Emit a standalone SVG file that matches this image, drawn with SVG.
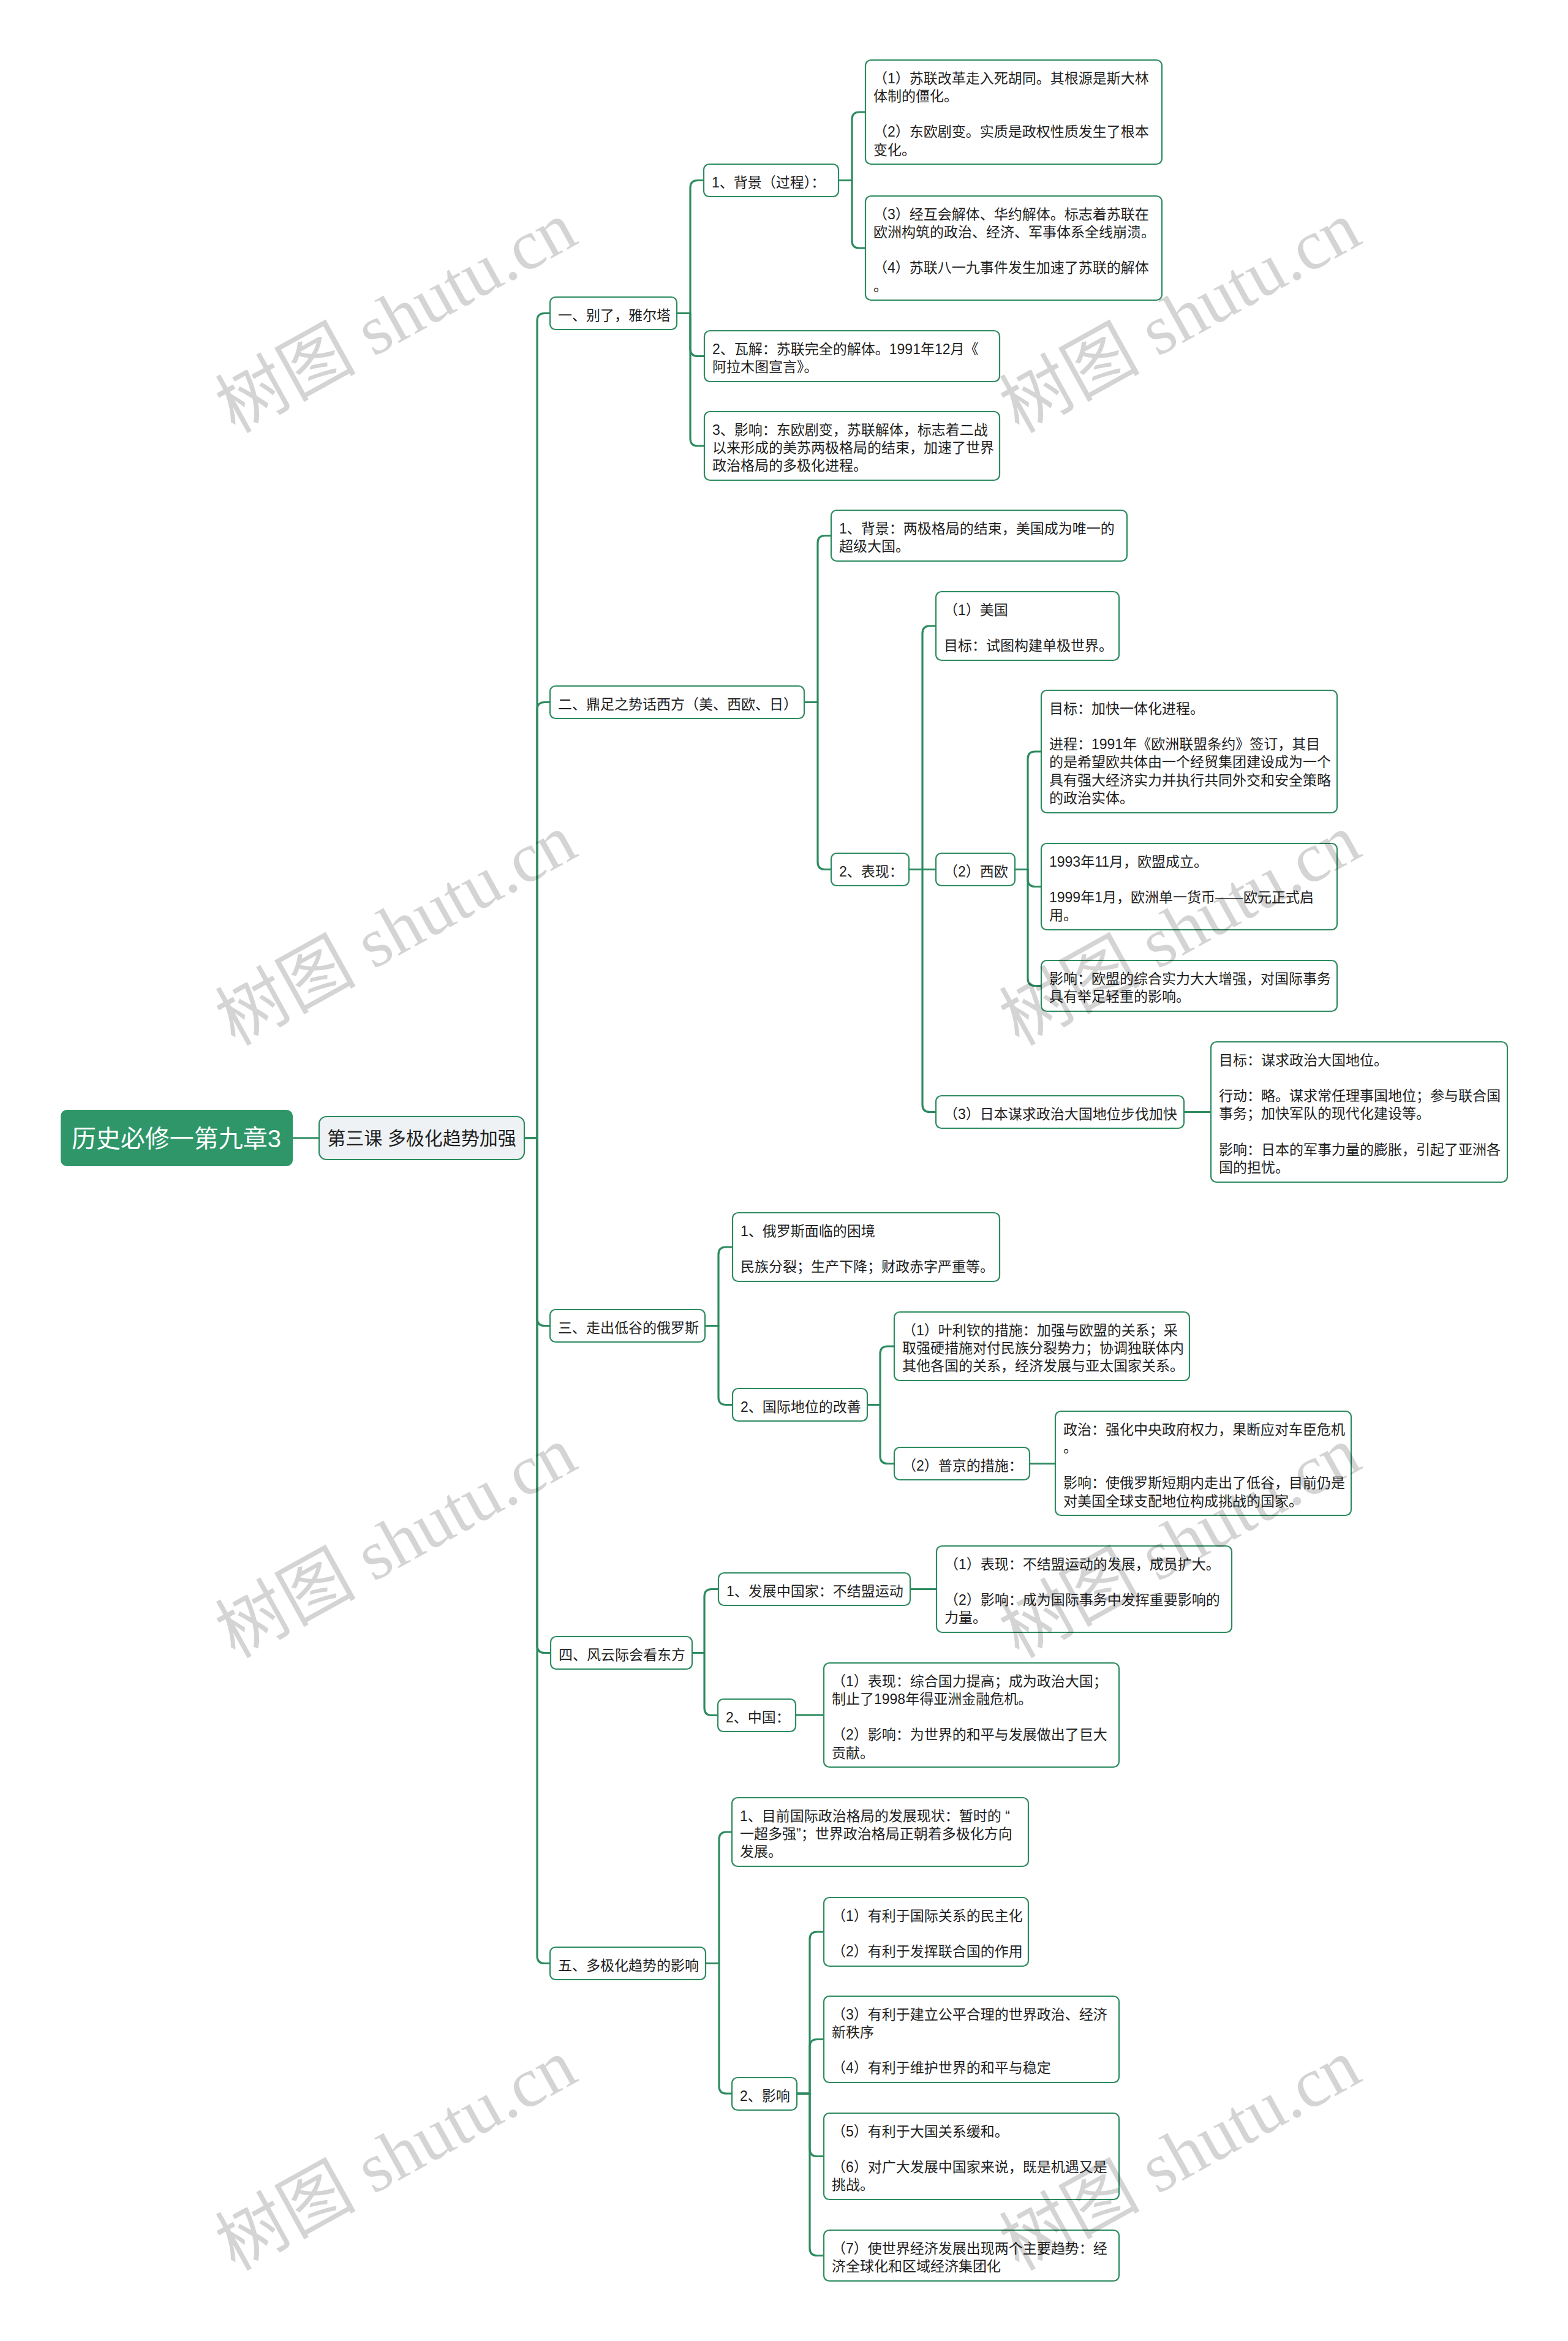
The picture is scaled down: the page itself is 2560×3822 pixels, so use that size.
<svg xmlns="http://www.w3.org/2000/svg" width="2560" height="3822" viewBox="0 0 2560 3822">
<style>
.bg{fill:#ffffff}
.box{fill:#ffffff;stroke:#2d8b5f;stroke-width:2.2}
.c{fill:none;stroke:#2d8b5f;stroke-width:3.2;stroke-linecap:round;stroke-linejoin:round}
.t{font-family:"Liberation Sans","Noto Sans CJK SC",sans-serif;font-size:23px;fill:#1e1e1e}
.wm{font-family:"Liberation Serif","Noto Sans CJK SC",serif;font-size:115px;fill:#000000;fill-opacity:0.17;text-anchor:middle}
</style>
<rect class="bg" x="0" y="0" width="2560" height="3822"/>

<g id="connectors">
<path class="c" d="M478,1858 H521"/>
<path class="c" d="M856,1858 H877 V523.5 Q877,511.5 889,511.5 H898"/>
<path class="c" d="M856,1858 H877 V1158.5 Q877,1146.5 889,1146.5 H898"/>
<path class="c" d="M856,1858 H877 V2152.5 Q877,2164.5 889,2164.5 H898"/>
<path class="c" d="M856,1858 H877 V2686.5 Q877,2698.5 889,2698.5 H899"/>
<path class="c" d="M856,1858 H877 V3193.5 Q877,3205.5 889,3205.5 H898"/>

<path class="c" d="M1105,511.5 H1127 V306.5 Q1127,294.5 1139,294.5 H1149"/>
<path class="c" d="M1105,511.5 H1127 V569.5 Q1127,581.5 1139,581.5 H1150"/>
<path class="c" d="M1105,511.5 H1127 V716 Q1127,728 1139,728 H1150"/>
<path class="c" d="M1369,294.5 H1391 V195 Q1391,183 1403,183 H1413"/>
<path class="c" d="M1369,294.5 H1391 V393 Q1391,405 1403,405 H1413"/>

<path class="c" d="M1313,1146.5 H1335 V886.5 Q1335,874.5 1347,874.5 H1357"/>
<path class="c" d="M1313,1146.5 H1335 V1407.5 Q1335,1419.5 1347,1419.5 H1357"/>
<path class="c" d="M1484,1419.5 H1506 V1034 Q1506,1022 1518,1022 H1528"/>
<path class="c" d="M1484,1419.5 H1528"/>
<path class="c" d="M1484,1419.5 H1506 V1803.5 Q1506,1815.5 1518,1815.5 H1528"/>
<path class="c" d="M1657,1419.5 H1678 V1239 Q1678,1227 1690,1227 H1700"/>
<path class="c" d="M1657,1419.5 H1678 V1435.5 Q1678,1447.5 1690,1447.5 H1700"/>
<path class="c" d="M1657,1419.5 H1678 V1597.5 Q1678,1609.5 1690,1609.5 H1700"/>
<path class="c" d="M1933,1815.5 H1977"/>

<path class="c" d="M1151,2164.5 H1173 V2048 Q1173,2036 1185,2036 H1196"/>
<path class="c" d="M1151,2164.5 H1173 V2281.5 Q1173,2293.5 1185,2293.5 H1196"/>
<path class="c" d="M1416,2293.5 H1437 V2210 Q1437,2198 1449,2198 H1460"/>
<path class="c" d="M1416,2293.5 H1437 V2377.5 Q1437,2389.5 1449,2389.5 H1460"/>
<path class="c" d="M1681,2389.5 H1723"/>

<path class="c" d="M1130,2698.5 H1150 V2606.5 Q1150,2594.5 1162,2594.5 H1173"/>
<path class="c" d="M1130,2698.5 H1150 V2788.5 Q1150,2800.5 1162,2800.5 H1172"/>
<path class="c" d="M1486,2594.5 H1529"/>
<path class="c" d="M1299,2800 H1345"/>

<path class="c" d="M1152,3205.5 H1174 V3003 Q1174,2991 1186,2991 H1195"/>
<path class="c" d="M1152,3205.5 H1174 V3406 Q1174,3418 1186,3418 H1195"/>
<path class="c" d="M1301,3418 H1322 V3166 Q1322,3154 1334,3154 H1345"/>
<path class="c" d="M1301,3418 H1322 V3341.5 Q1322,3329.5 1334,3329.5 H1345"/>
<path class="c" d="M1301,3418 H1322 V3508.5 Q1322,3520.5 1334,3520.5 H1345"/>
<path class="c" d="M1301,3418 H1322 V3670.5 Q1322,3682.5 1334,3682.5 H1345"/>
</g>

<g id="root">
<rect x="99" y="1812" width="379" height="92" rx="10" fill="#2e9668"/>
<text x="288" y="1873" text-anchor="middle" style="font-family:'Liberation Sans','Noto Sans CJK SC',sans-serif;font-size:40px;fill:#ffffff">历史必修一第九章3</text>
</g>

<g id="subroot">
<rect x="521" y="1823" width="335" height="70" rx="12" fill="#eef2f4" stroke="#2d8b5f" stroke-width="2.2"/>
<text x="688.5" y="1869" text-anchor="middle" style="font-family:'Liberation Sans','Noto Sans CJK SC',sans-serif;font-size:30px;fill:#1e1e1e">第三课 多极化趋势加强</text>
</g>

<g id="n1">
<rect class="box" x="898" y="485" width="207" height="53" rx="9"/>
<text class="t" x="911" y="522.5">一、别了，雅尔塔</text>
</g>
<g id="n1-1">
<rect class="box" x="1149" y="268" width="220" height="53" rx="9"/>
<text class="t" x="1162" y="305.5">1、背景（过程）：</text>
</g>
<g id="n1-1-1">
<rect class="box" x="1413" y="98" width="484" height="170" rx="9"/>
<text class="t"><tspan x="1426" y="135.5">（1）苏联改革走入死胡同。其根源是斯大林</tspan><tspan x="1426" y="164.8">体制的僵化。</tspan><tspan x="1426" y="223.4">（2）东欧剧变。实质是政权性质发生了根本</tspan><tspan x="1426" y="252.7">变化。</tspan></text>
</g>
<g id="n1-1-2">
<rect class="box" x="1413" y="320" width="484" height="170" rx="9"/>
<text class="t"><tspan x="1426" y="357.5">（3）经互会解体、华约解体。标志着苏联在</tspan><tspan x="1426" y="386.8">欧洲构筑的政治、经济、军事体系全线崩溃。</tspan><tspan x="1426" y="445.4">（4）苏联八一九事件发生加速了苏联的解体</tspan><tspan x="1426" y="474.7">。</tspan></text>
</g>
<g id="n1-2">
<rect class="box" x="1150" y="540" width="482" height="83" rx="9"/>
<text class="t"><tspan x="1163" y="577.5">2、瓦解：苏联完全的解体。1991年12月《</tspan><tspan x="1163" y="606.8">阿拉木图宣言》。</tspan></text>
</g>
<g id="n1-3">
<rect class="box" x="1150" y="672" width="482" height="112" rx="9"/>
<text class="t"><tspan x="1163" y="709.5">3、影响：东欧剧变，苏联解体，标志着二战</tspan><tspan x="1163" y="738.8">以来形成的美苏两极格局的结束，加速了世界</tspan><tspan x="1163" y="768.1">政治格局的多极化进程。</tspan></text>
</g>

<g id="n2">
<rect class="box" x="898" y="1120" width="415" height="53" rx="9"/>
<text class="t" x="911" y="1157.5">二、鼎足之势话西方（美、西欧、日）</text>
</g>
<g id="n2-1">
<rect class="box" x="1357" y="833" width="483" height="83" rx="9"/>
<text class="t"><tspan x="1370" y="870.5">1、背景：两极格局的结束，美国成为唯一的</tspan><tspan x="1370" y="899.8">超级大国。</tspan></text>
</g>
<g id="n2-2">
<rect class="box" x="1357" y="1393" width="127" height="53" rx="9"/>
<text class="t" x="1370" y="1430.5">2、表现：</text>
</g>
<g id="n2-2-1">
<rect class="box" x="1528" y="966" width="299" height="112" rx="9"/>
<text class="t"><tspan x="1541" y="1003.5">（1）美国</tspan><tspan x="1541" y="1062.1">目标：试图构建单极世界。</tspan></text>
</g>
<g id="n2-2-2">
<rect class="box" x="1528" y="1393" width="129" height="53" rx="9"/>
<text class="t" x="1541" y="1430.5">（2）西欧</text>
</g>
<g id="n2-2-2-1">
<rect class="box" x="1700" y="1127" width="483" height="200" rx="9"/>
<text class="t"><tspan x="1713" y="1164.5">目标：加快一体化进程。</tspan><tspan x="1713" y="1223.1">进程：1991年《欧洲联盟条约》签订，其目</tspan><tspan x="1713" y="1252.4">的是希望欧共体由一个经贸集团建设成为一个</tspan><tspan x="1713" y="1281.7">具有强大经济实力并执行共同外交和安全策略</tspan><tspan x="1713" y="1311">的政治实体。</tspan></text>
</g>
<g id="n2-2-2-2">
<rect class="box" x="1700" y="1377" width="483" height="141" rx="9"/>
<text class="t"><tspan x="1713" y="1414.5">1993年11月，欧盟成立。</tspan><tspan x="1713" y="1473.1">1999年1月，欧洲单一货币——欧元正式启</tspan><tspan x="1713" y="1502.4">用。</tspan></text>
</g>
<g id="n2-2-2-3">
<rect class="box" x="1700" y="1568" width="483" height="83" rx="9"/>
<text class="t"><tspan x="1713" y="1605.5">影响：欧盟的综合实力大大增强，对国际事务</tspan><tspan x="1713" y="1634.8">具有举足轻重的影响。</tspan></text>
</g>
<g id="n2-2-3">
<rect class="box" x="1528" y="1789" width="405" height="53" rx="9"/>
<text class="t" x="1541" y="1826.5">（3）日本谋求政治大国地位步伐加快</text>
</g>
<g id="n2-2-3-1">
<rect class="box" x="1977" y="1701" width="484" height="229" rx="9"/>
<text class="t"><tspan x="1990" y="1738.5">目标：谋求政治大国地位。</tspan><tspan x="1990" y="1797.1">行动：略。谋求常任理事国地位；参与联合国</tspan><tspan x="1990" y="1826.4">事务；加快军队的现代化建设等。</tspan><tspan x="1990" y="1885">影响：日本的军事力量的膨胀，引起了亚洲各</tspan><tspan x="1990" y="1914.3">国的担忧。</tspan></text>
</g>

<g id="n3">
<rect class="box" x="898" y="2138" width="253" height="53" rx="9"/>
<text class="t" x="911" y="2175.5">三、走出低谷的俄罗斯</text>
</g>
<g id="n3-1">
<rect class="box" x="1196" y="1980" width="436" height="112" rx="9"/>
<text class="t"><tspan x="1209" y="2017.5">1、俄罗斯面临的困境</tspan><tspan x="1209" y="2076.1">民族分裂；生产下降；财政赤字严重等。</tspan></text>
</g>
<g id="n3-2">
<rect class="box" x="1196" y="2267" width="220" height="53" rx="9"/>
<text class="t" x="1209" y="2304.5">2、国际地位的改善</text>
</g>
<g id="n3-2-1">
<rect class="box" x="1460" y="2142" width="482" height="112" rx="9"/>
<text class="t"><tspan x="1473" y="2179.5">（1）叶利钦的措施：加强与欧盟的关系；采</tspan><tspan x="1473" y="2208.8">取强硬措施对付民族分裂势力；协调独联体内</tspan><tspan x="1473" y="2238.1">其他各国的关系，经济发展与亚太国家关系。</tspan></text>
</g>
<g id="n3-2-2">
<rect class="box" x="1460" y="2363" width="221" height="53" rx="9"/>
<text class="t" x="1473" y="2400.5">（2）普京的措施：</text>
</g>
<g id="n3-2-2-1">
<rect class="box" x="1723" y="2304" width="483" height="170" rx="9"/>
<text class="t"><tspan x="1736" y="2341.5">政治：强化中央政府权力，果断应对车臣危机</tspan><tspan x="1736" y="2370.8">。</tspan><tspan x="1736" y="2429.4">影响：使俄罗斯短期内走出了低谷，目前仍是</tspan><tspan x="1736" y="2458.7">对美国全球支配地位构成挑战的国家。</tspan></text>
</g>

<g id="n4">
<rect class="box" x="899" y="2672" width="231" height="53" rx="9"/>
<text class="t" x="912" y="2709.5">四、风云际会看东方</text>
</g>
<g id="n4-1">
<rect class="box" x="1173" y="2568" width="313" height="53" rx="9"/>
<text class="t" x="1186" y="2605.5">1、发展中国家：不结盟运动</text>
</g>
<g id="n4-1-1">
<rect class="box" x="1529" y="2524" width="482" height="141" rx="9"/>
<text class="t"><tspan x="1542" y="2561.5">（1）表现：不结盟运动的发展，成员扩大。</tspan><tspan x="1542" y="2620.1">（2）影响：成为国际事务中发挥重要影响的</tspan><tspan x="1542" y="2649.4">力量。</tspan></text>
</g>
<g id="n4-2">
<rect class="box" x="1172" y="2774" width="127" height="53" rx="9"/>
<text class="t" x="1185" y="2811.5">2、中国：</text>
</g>
<g id="n4-2-1">
<rect class="box" x="1345" y="2715" width="482" height="170" rx="9"/>
<text class="t"><tspan x="1358" y="2752.5">（1）表现：综合国力提高；成为政治大国；</tspan><tspan x="1358" y="2781.8">制止了1998年得亚洲金融危机。</tspan><tspan x="1358" y="2840.4">（2）影响：为世界的和平与发展做出了巨大</tspan><tspan x="1358" y="2869.7">贡献。</tspan></text>
</g>

<g id="n5">
<rect class="box" x="898" y="3179" width="254" height="53" rx="9"/>
<text class="t" x="911" y="3216.5">五、多极化趋势的影响</text>
</g>
<g id="n5-1">
<rect class="box" x="1195" y="2935" width="484" height="112" rx="9"/>
<text class="t"><tspan x="1208" y="2972.5">1、目前国际政治格局的发展现状：暂时的 “</tspan><tspan x="1208" y="3001.8">一超多强”；世界政治格局正朝着多极化方向</tspan><tspan x="1208" y="3031.1">发展。</tspan></text>
</g>
<g id="n5-2">
<rect class="box" x="1195" y="3392" width="106" height="53" rx="9"/>
<text class="t" x="1208" y="3429.5">2、影响</text>
</g>
<g id="n5-2-1">
<rect class="box" x="1345" y="3098" width="334" height="112" rx="9"/>
<text class="t"><tspan x="1358" y="3135.5">（1）有利于国际关系的民主化</tspan><tspan x="1358" y="3194.1">（2）有利于发挥联合国的作用</tspan></text>
</g>
<g id="n5-2-2">
<rect class="box" x="1345" y="3259" width="482" height="141" rx="9"/>
<text class="t"><tspan x="1358" y="3296.5">（3）有利于建立公平合理的世界政治、经济</tspan><tspan x="1358" y="3325.8">新秩序</tspan><tspan x="1358" y="3384.4">（4）有利于维护世界的和平与稳定</tspan></text>
</g>
<g id="n5-2-3">
<rect class="box" x="1345" y="3450" width="482" height="141" rx="9"/>
<text class="t"><tspan x="1358" y="3487.5">（5）有利于大国关系缓和。</tspan><tspan x="1358" y="3546.1">（6）对广大发展中国家来说，既是机遇又是</tspan><tspan x="1358" y="3575.4">挑战。</tspan></text>
</g>
<g id="n5-2-4">
<rect class="box" x="1345" y="3641" width="482" height="83" rx="9"/>
<text class="t"><tspan x="1358" y="3678.5">（7）使世界经济发展出现两个主要趋势：经</tspan><tspan x="1358" y="3707.8">济全球化和区域经济集团化</tspan></text>
</g>

<g id="watermarks">
<text class="wm" x="646" y="557" transform="rotate(-29 646 517)">树图 shutu.cn</text>
<text class="wm" x="1926" y="557" transform="rotate(-29 1926 517)">树图 shutu.cn</text>
<text class="wm" x="646" y="1557" transform="rotate(-29 646 1517)">树图 shutu.cn</text>
<text class="wm" x="1926" y="1557" transform="rotate(-29 1926 1517)">树图 shutu.cn</text>
<text class="wm" x="646" y="2557" transform="rotate(-29 646 2517)">树图 shutu.cn</text>
<text class="wm" x="1926" y="2557" transform="rotate(-29 1926 2517)">树图 shutu.cn</text>
<text class="wm" x="646" y="3557" transform="rotate(-29 646 3517)">树图 shutu.cn</text>
<text class="wm" x="1926" y="3557" transform="rotate(-29 1926 3517)">树图 shutu.cn</text>
</g>
</svg>
